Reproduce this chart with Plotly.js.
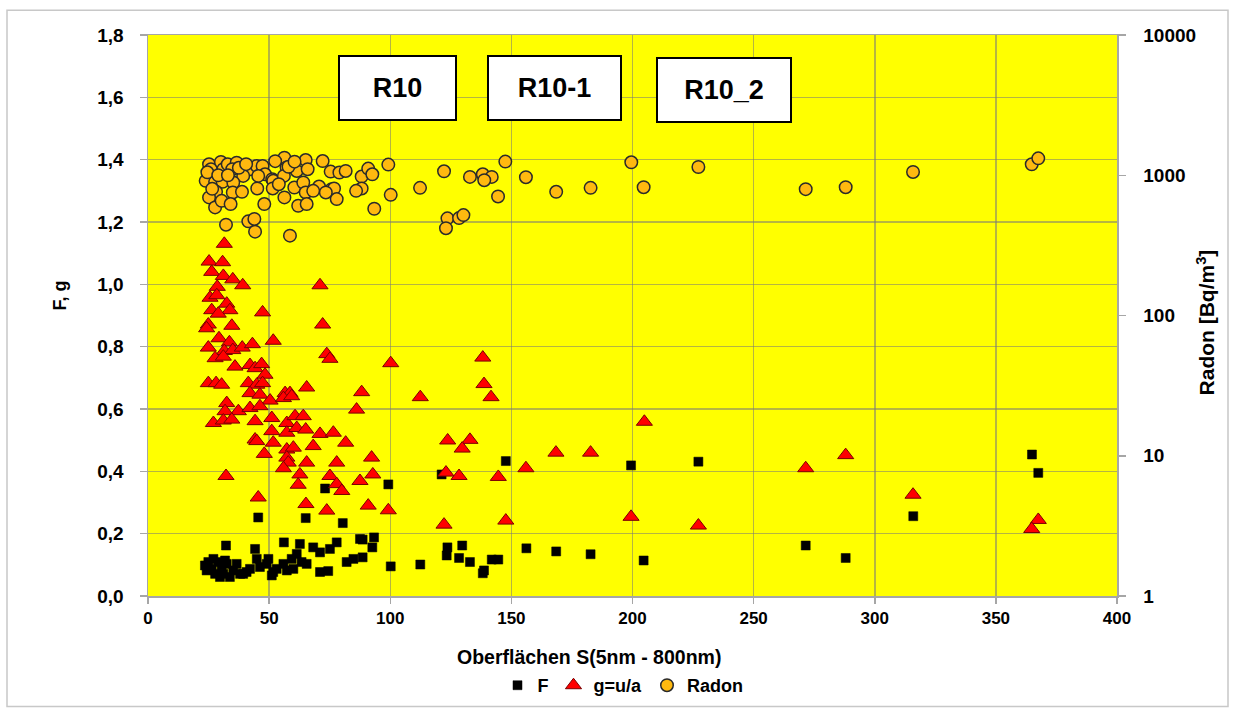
<!DOCTYPE html>
<html>
<head>
<meta charset="utf-8">
<script src="https://cdn.plot.ly/plotly-3.0.1.min.js"></script>
<style>
  html, body { margin: 0; padding: 0; background: #ffffff; }
  #chart { width: 1233px; height: 716px; }
</style>
</head>
<body>
<div id="chart"></div>
<script>
// Surface area S (5 nm - 800 nm) against F
const fX = [364.9,367.5,315.9,271.5,288.0,147.7,199.4,227.2,99.2,121.2,93.3,88.6,92.6,88.6,100.2,112.4,123.6,123.3,129.7,128.4,
  132.9,138.2,138.7,141.9,144.6,156.2,168.5,182.7,204.6,73.1,45.5,65.1,80.4,32.2,44.2,56.1,62.7,68.2,77.9,87.5,
  75.1,71.0,84.8,82.0,71.0,74.4,63.4,65.5,59.3,61.4,55.9,53.1,51.1,51.7,49.7,49.0,44.9,46.2,42.1,39.3,
  36.6,35.2,33.8,31.8,31.1,29.7,27.0,26.3,27.7,23.5,24.2,24.9,29.0,30.4,32.5,38.0,40.7,57.3,60.0];
const fY = [0.454,0.395,0.256,0.162,0.122,0.433,0.419,0.431,0.358,0.390,0.188,0.181,0.156,0.124,0.095,0.101,0.156,0.130,0.162,0.122,
  0.109,0.073,0.082,0.117,0.117,0.153,0.143,0.134,0.114,0.345,0.252,0.250,0.234,0.162,0.151,0.172,0.167,0.156,0.172,0.183,
  0.151,0.140,0.119,0.109,0.077,0.080,0.109,0.103,0.119,0.135,0.103,0.087,0.066,0.077,0.119,0.103,0.119,0.093,0.087,0.071,
  0.103,0.082,0.061,0.114,0.071,0.061,0.119,0.087,0.071,0.098,0.082,0.109,0.109,0.098,0.103,0.071,0.077,0.082,0.087];

// g = u/a
const gX = [31.5,25.2,30.8,26.3,31.1,35.0,39.1,71.0,28.6,25.6,28.4,32.5,33.8,26.3,29.0,47.3,72.1,24.9,24.2,34.6,
  29.3,51.7,33.6,24.9,31.5,35.0,38.9,43.1,27.7,31.1,73.8,75.1,35.9,42.1,44.2,46.9,48.3,24.9,28.1,30.4,
  41.4,44.9,47.3,65.5,88.2,56.6,58.6,42.1,46.2,50.4,55.9,59.3,86.1,32.5,31.8,37.3,42.1,46.2,27.0,31.1,
  34.6,44.2,51.1,57.3,60.7,64.1,51.1,57.3,61.4,65.1,71.0,76.5,81.6,44.2,44.9,51.7,57.3,60.0,68.2,92.3,
  48.0,57.3,57.9,65.5,77.9,55.9,62.7,75.1,92.8,62.0,77.9,80.0,87.5,32.2,45.5,65.2,73.8,90.9,100.2,138.2,
  138.7,141.6,112.4,204.9,123.7,132.9,129.7,168.4,182.7,123.0,128.4,144.6,156.0,99.2,122.2,147.7,199.4,227.2,288.0,271.5,
  315.8,367.5,364.8];
const gY = [1.130,1.073,1.071,1.040,1.027,1.016,0.997,0.997,0.992,0.957,0.965,0.938,0.917,0.917,0.906,0.910,0.871,0.871,0.859,0.867,
  0.827,0.819,0.814,0.797,0.786,0.789,0.797,0.808,0.763,0.768,0.776,0.761,0.736,0.741,0.731,0.744,0.710,0.683,0.683,0.678,
  0.683,0.678,0.683,0.669,0.654,0.651,0.651,0.651,0.646,0.627,0.635,0.641,0.598,0.619,0.593,0.593,0.603,0.609,0.555,0.563,
  0.566,0.561,0.571,0.555,0.577,0.577,0.529,0.524,0.539,0.534,0.520,0.524,0.492,0.502,0.497,0.492,0.470,0.476,0.481,0.444,
  0.456,0.444,0.428,0.428,0.428,0.410,0.390,0.385,0.390,0.357,0.359,0.337,0.369,0.385,0.316,0.295,0.274,0.290,0.747,0.765,
  0.680,0.638,0.638,0.559,0.499,0.501,0.473,0.460,0.460,0.396,0.385,0.382,0.410,0.275,0.229,0.242,0.254,0.226,0.452,0.410,
  0.325,0.244,0.215];

// Radon [Bq/m³]
const rX = [88.2,90.9,92.6,88.2,99.2,100.2,93.4,112.3,122.2,123.6,123.0,128.4,130.2,132.9,138.2,141.9,138.8,144.5,147.5,156.0,
  168.5,182.7,199.5,204.6,227.2,271.5,288.0,315.8,364.8,367.5,25.2,26.0,30.1,31.1,32.9,36.6,34.8,42.1,44.9,47.3,
  48.3,51.3,56.3,57.2,61.4,65.1,65.9,72.1,75.4,79.0,81.6,39.3,45.5,51.7,56.1,23.8,27.7,30.8,35.2,28.1,
  35.0,38.8,45.1,51.5,54.0,60.4,64.1,65.1,70.6,75.8,76.8,85.9,68.2,73.4,25.2,27.7,30.4,34.1,48.0,56.3,
  62.0,65.5,77.9,32.2,41.4,43.9,44.2,58.6,24.5,29.0,33.0,26.5,37.5,40.5,52.5,58.0,60.5];
const rY = [979,1115,1016,805,1191,725,577,813,1067,493,419,495,520,973,1016,973,922,706,1251,968,
  762,813,1237,822,1145,796,822,1056,1197,1320,1197,1104,1243,1104,1197,1230,1104,1104,1164,1164,
  1016,937,1335,1134,1073,1284,1104,1263,1062,1045,1073,989,989,912,989,912,897,897,888,762,
  754,762,805,805,863,818,888,754,831,796,805,774,774,754,695,590,657,623,623,695,
  606,623,676,444,469,488,396,371,1050,1000,1000,800,1130,1200,1260,1150,1250];

const boxLabels = ['R10', 'R10-1', 'R10_2'];

const FONT = 'Liberation Sans, Arial, Helvetica, sans-serif';
const GRID = 'rgba(120,120,120,0.55)';
const AXIS = '#a6a6a6';

const traces = [
  {
    x: fX, y: fY, name: 'F', type: 'scatter', mode: 'markers',
    marker: { symbol: 'square', size: 9, color: '#000000', line: { color: '#000000', width: 0.5 } }
  },
  {
    x: gX, y: gY, name: 'g=u/a', type: 'scatter', mode: 'markers',
    marker: { symbol: 'triangle-up', size: 14, color: '#ff0000', line: { color: '#7a0000', width: 1 } }
  },
  {
    x: rX, y: rY, name: 'Radon', type: 'scatter', mode: 'markers', yaxis: 'y2',
    marker: { symbol: 'circle', size: 12.5, color: '#ffb90f', line: { color: '#2a2a2a', width: 1.5 } }
  }
];

// plot area spans 148..1117 px horizontally, 35..599 px vertically
const W = 969, H = 564;
const px = v => (v - 148) / W;
const py = v => (599 - v) / H;

const boxCenters = [[397, 88.5], [554, 88], [723.5, 90]];
const boxWidths = [115, 131, 132];

const annotations = boxLabels.map((t, i) => ({
  text: t, xref: 'paper', yref: 'paper',
  x: px(boxCenters[i][0]), y: py(boxCenters[i][1]),
  xanchor: 'center', yanchor: 'middle', showarrow: false,
  width: boxWidths[i], height: 62, borderpad: 0,
  bgcolor: '#ffffff', bordercolor: '#000000', borderwidth: 2,
  font: { family: FONT, size: 27, color: '#000000', weight: 'bold' }
}));

annotations.push(
  { text: 'Oberflächen S(5nm - 800nm)', xref: 'paper', yref: 'paper', x: px(589), y: py(660),
    xanchor: 'center', yanchor: 'middle', showarrow: false,
    font: { family: FONT, size: 19.5, color: '#000000', weight: 'bold' } },
  { text: 'F, g', xref: 'paper', yref: 'paper', x: px(60), y: py(297), textangle: -90,
    xanchor: 'center', yanchor: 'middle', showarrow: false,
    font: { family: FONT, size: 18, color: '#000000', weight: 'bold' } },
  { text: 'Radon [Bq/m<sup>3</sup>]', xref: 'paper', yref: 'paper', x: px(1206), y: py(324), textangle: -90,
    xanchor: 'center', yanchor: 'middle', showarrow: false,
    font: { family: FONT, size: 21, color: '#000000', weight: 'bold' } }
);

const layout = {
  width: 1233, height: 716,
  margin: { l: 148, r: 116, t: 35, b: 117 },
  paper_bgcolor: '#ffffff',
  plot_bgcolor: '#ffff00',
  separators: ', ',
  showlegend: true,
  legend: {
    orientation: 'h', x: px(623), xanchor: 'center', y: py(689), yanchor: 'middle',
    font: { family: FONT, size: 18, color: '#000000', weight: 'bold' },
    itemwidth: 30, tracegroupgap: 0, bgcolor: 'rgba(0,0,0,0)'
  },
  xaxis: {
    range: [0, 400], dtick: 50, tick0: 0,
    showgrid: true, gridcolor: GRID, gridwidth: 1.5,
    zeroline: false, showline: true, linecolor: AXIS, linewidth: 1.5, mirror: true,
    ticks: 'outside', ticklen: 6, tickcolor: AXIS, tickwidth: 1.5,
    tickfont: { family: FONT, size: 17, color: '#000000', weight: 'bold' }
  },
  yaxis: {
    range: [0, 1.8], dtick: 0.2, tick0: 0, tickformat: '.1f',
    showgrid: true, gridcolor: GRID, gridwidth: 1.5,
    zeroline: false, showline: true, linecolor: AXIS, linewidth: 1.5,
    ticks: 'outside', ticklen: 7, tickcolor: AXIS, tickwidth: 1.5,
    ticklabelstandoff: 12,
    tickfont: { family: FONT, size: 19, color: '#000000', weight: 'bold' }
  },
  yaxis2: {
    type: 'log', range: [0, 4], dtick: 1, tickformat: 'd',
    overlaying: 'y', side: 'right',
    showgrid: false, zeroline: false, showline: true, linecolor: AXIS, linewidth: 1.5,
    ticks: 'outside', ticklen: 7, tickcolor: AXIS, tickwidth: 1.5,
    ticklabelstandoff: 14,
    tickfont: { family: FONT, size: 19, color: '#000000', weight: 'bold' }
  },
  annotations: annotations,
  shapes: [
    { type: 'rect', xref: 'paper', yref: 'paper', layer: 'below',
      x0: px(7), x1: px(1228), y0: py(710), y1: py(10),
      line: { color: '#c8c8c8', width: 1.5 }, fillcolor: 'rgba(0,0,0,0)' }
  ]
};

Plotly.newPlot('chart', traces, layout, { displayModeBar: false, staticPlot: true });
</script>
</body>
</html>
